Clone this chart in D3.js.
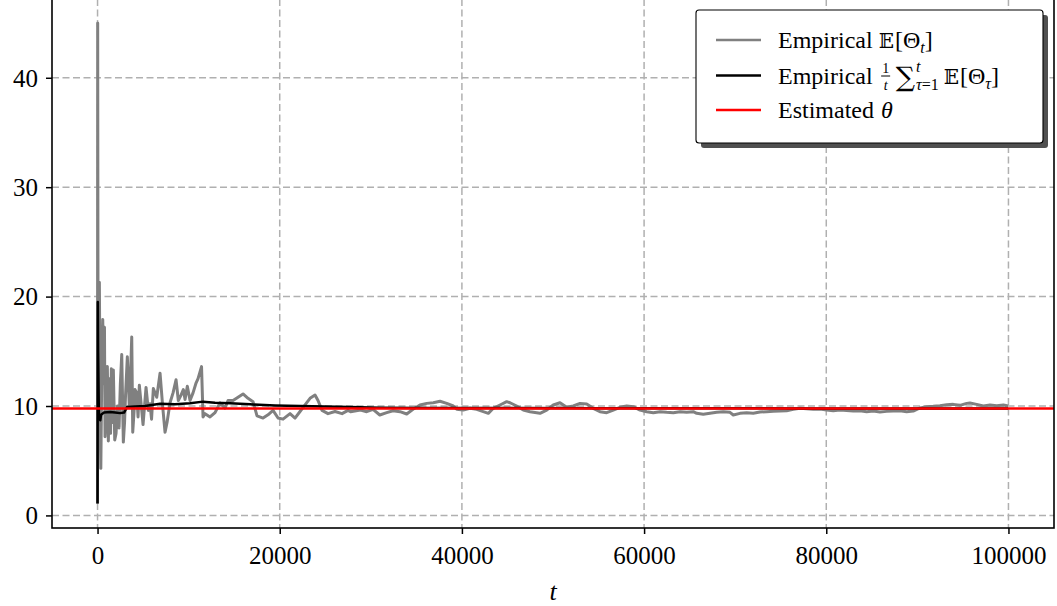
<!DOCTYPE html>
<html><head><meta charset="utf-8">
<script src="https://cdn.jsdelivr.net/npm/d3@7"></script>
<style>
body{margin:0;background:#fff;}
svg{display:block;}
</style></head>
<body><svg id="c" width="1057" height="606"></svg>
<script>
// ---------------- data ----------------
const xTicks = [0, 20000, 40000, 60000, 80000, 100000];
const yTicks = [0, 10, 20, 30, 40];
const thetaEst = 9.78;

const grayT = [0,15,60,200,300,360,450,571,680,760,823,933,1076,1185,1317,1427,1515,1614,1734,1888,2031,2195,2360,2503,2656,2832,2964,3074,3271,3491,3590,3754,3864,4007,4116,4303,4446,4588,4852,4995,5324,5576,5763,5928,6125,6498,6861,7157,7410,7629,7958,8288,8617,8869,9166,9418,9605,9857,10153,10483,10812,11032,11416,11581,11800,12349,12898,13447,13996,14325,14874,15423,15972,16520,17069,17508,18167,18716,19265,19814,20363,21131,21680,22229,22777,23326,23875,24204,24644,25302,26071,26839,27498,27772,28870,29550,30241,30986,31746,32437,33206,33941,34632,35400,36136,36860,37596,38331,39056,39429,40154,40889,41625,42349,42898,43447,44182,44918,45281,46015,46740,47475,48210,48573,49308,50032,50768,51503,52228,52963,53698,54423,55158,55894,56618,57354,58089,58814,59549,60284,61009,61744,62480,63204,63940,64675,65400,65772,66497,67232,67968,68692,69428,69790,70526,71261,71986,72721,73457,74181,74917,75652,76377,77112,77847,78572,79307,80043,80767,81503,82238,82963,83698,84434,85158,85894,86629,87354,88089,88825,89549,90285,91020,91745,92480,93216,93940,94676,95411,95773,96509,97244,97980,98715,99450,99966];
const grayV = [1.1,45.0,11.0,21.3,8.0,4.3,12.0,17.9,12.0,17.2,7.2,9.0,13.6,6.8,12.5,7.5,13.4,8.5,13.3,6.9,7.5,10.0,8.0,12.0,14.7,6.7,8.5,11.0,14.5,9.9,12.0,16.3,7.6,9.5,11.5,11.2,9.0,11.9,9.6,8.3,11.7,9.6,10.2,8.8,11.6,10.8,13.0,9.9,7.6,8.5,10.3,11.2,12.4,10.5,11.0,11.5,10.6,11.8,10.5,11.2,12.1,12.5,13.6,9.0,9.3,9.0,9.4,10.3,9.8,10.5,10.5,10.8,11.1,10.7,10.4,9.1,8.9,9.2,9.6,8.9,8.8,9.3,8.9,9.5,10.1,10.7,11.0,10.5,9.6,9.3,9.5,9.3,9.6,9.48,9.63,9.48,9.70,9.18,9.39,9.57,9.48,9.27,9.70,10.09,10.24,10.30,10.43,10.24,10.0,9.70,9.63,9.79,9.70,9.48,9.33,9.79,10.09,10.40,10.30,10.0,9.63,9.48,9.39,9.33,9.63,10.09,10.30,9.88,10.0,10.24,10.18,9.79,9.48,9.39,9.63,9.88,10.0,9.94,9.63,9.48,9.39,9.48,9.42,9.39,9.48,9.42,9.48,9.33,9.24,9.33,9.42,9.48,9.42,9.18,9.33,9.39,9.33,9.45,9.48,9.51,9.54,9.57,9.70,9.79,9.76,9.70,9.73,9.63,9.57,9.63,9.60,9.54,9.57,9.48,9.54,9.45,9.51,9.54,9.57,9.48,9.54,9.82,9.94,9.97,10.03,10.12,10.15,10.06,10.24,10.27,10.15,10.0,10.09,10.03,10.09,10.0];

const blackT = [0,30,60,150,300,384,714,1372,1921,2470,2909,3238,4116,5214,6861,8507,10153,11581,12898,14545,16740,19485,22229,24973,27717,31010,35400,44182,55158,77112,99966];
const blackV = [1.1,19.5,15.0,9.0,8.7,9.2,9.4,9.45,9.4,9.35,9.4,9.9,9.95,10.0,10.2,10.15,10.25,10.4,10.3,10.25,10.15,10.05,10.0,9.95,9.9,9.85,9.82,9.82,9.8,9.78,9.78];

// ---------------- layout ----------------
const L = 52, R = 1054, T = -1, B = 528;
const svg = d3.select("#c");
const x = d3.scaleLinear().domain([-5000, 105000]).range([L, R]);
const y = d3.scaleLinear().domain([-1.15, 47.2]).range([B, T]);
const serif = "'Liberation Serif', 'Times New Roman', serif";

svg.append("defs").append("clipPath").attr("id","clip")
  .append("rect").attr("x",L).attr("y",T).attr("width",R-L).attr("height",B-T);

// grid
const grid = svg.append("g").attr("stroke","#b0b0b0").attr("stroke-width",1.5).attr("stroke-dasharray","7,3.5");
grid.selectAll("line.gx").data(xTicks).join("line").attr("class","gx")
  .attr("x1",d=>x(d)).attr("x2",d=>x(d)).attr("y1",T).attr("y2",B);
grid.selectAll("line.gy").data(yTicks).join("line").attr("class","gy")
  .attr("x1",L).attr("x2",R).attr("y1",d=>y(d)).attr("y2",d=>y(d));

// lines
const plot = svg.append("g").attr("clip-path","url(#clip)");
const grayData = grayT.map((t,i)=>[t,grayV[i]]);
const blackData = blackT.map((t,i)=>[t,blackV[i]]);
const line = d3.line().x(d=>x(d[0])).y(d=>y(d[1]));
plot.append("path").datum(grayData).attr("d",line).attr("fill","none")
  .attr("stroke","#808080").attr("stroke-width",3).attr("stroke-linejoin","round");
plot.append("path").datum(blackData).attr("d",line).attr("fill","none")
  .attr("stroke","#000").attr("stroke-width",2.5).attr("stroke-linejoin","round");
plot.append("line").attr("x1",L).attr("x2",R).attr("y1",y(thetaEst)).attr("y2",y(thetaEst))
  .attr("stroke","#ff0000").attr("stroke-width",2.5);

// axes
const xAxis = d3.axisBottom(x).tickValues(xTicks).tickSize(6).tickSizeOuter(0).tickPadding(12).tickFormat(d3.format("d"));
const yAxis = d3.axisLeft(y).tickValues(yTicks).tickSize(6).tickSizeOuter(0).tickPadding(8).tickFormat(d3.format("d"));
const gx = svg.append("g").attr("transform",`translate(0,${B})`).call(xAxis);
const gy = svg.append("g").attr("transform",`translate(${L},0)`).call(yAxis);
[gx,gy].forEach(g=>{
  g.select(".domain").remove();
  g.selectAll(".tick line").attr("stroke","#000").attr("stroke-width",1.5);
  g.selectAll(".tick text").attr("font-family",serif).attr("font-size",25).attr("fill","#000");
});
gy.selectAll(".tick text").attr("dy","0.33em");

// spines
svg.append("rect").attr("x",L).attr("y",T).attr("width",R-L).attr("height",B-T)
  .attr("fill","none").attr("stroke","#000").attr("stroke-width",1.6);

// x label
svg.append("text").attr("x",(L+R)/2).attr("y",600).attr("text-anchor","middle")
  .attr("font-family",serif).attr("font-style","italic").attr("font-size",26).text("t");

// ---------------- legend ----------------
const lg = svg.append("g");
lg.append("rect").attr("x",701).attr("y",15).attr("width",347).attr("height",133).attr("rx",3)
  .attr("fill","#505050");
lg.append("rect").attr("x",696).attr("y",10).attr("width",347).attr("height",133).attr("rx",3)
  .attr("fill","#fff").attr("stroke","#000").attr("stroke-width",1.1);

const legendColors = ["#808080","#000","#ff0000"];
const rowY = [40, 75.5, 110];
rowY.forEach((ry,i)=>{
  lg.append("line").attr("x1",716).attr("x2",761).attr("y1",ry).attr("y2",ry)
    .attr("stroke",legendColors[i]).attr("stroke-width",2.6);
});

const bb = "'DejaVu Serif','DejaVu Sans','Noto Sans',serif";
function piece(px, by, str, size, opts={}){
  const t = lg.append("text").attr("x",px).attr("y",by).attr("font-size",size)
    .attr("font-family",opts.font||serif).attr("fill","#000").text(str);
  if(opts.italic) t.attr("font-style","italic");
  if(opts.anchor) t.attr("text-anchor",opts.anchor);
  return t.node().getComputedTextLength();
}
// row 1
let cx = 778, by = 48;
cx += piece(cx,by,"Empirical",24) + 6;
cx += piece(cx,by,"\u{1D53C}",20,{font:bb}) + 1;
cx += piece(cx,by,"[\u0398",24);
cx += piece(cx,by+5,"t",16,{italic:true});
piece(cx,by,"]",24);
// row 2
cx = 778; by = 83.5;
cx += piece(cx,by,"Empirical",24) + 9;
{
  const fx = cx + 4;
  piece(fx,by-11,"1",14,{anchor:"middle"});
  piece(fx,by+6,"t",14,{italic:true,anchor:"middle"});
  lg.append("line").attr("x1",fx-4.5).attr("x2",fx+4.5).attr("y1",by-7.5).attr("y2",by-7.5)
    .attr("stroke","#000").attr("stroke-width",1);
  cx = fx + 10;
}
cx += piece(cx,by+2,"\u2211",27,{font:bb}) + 1;
{
  const w1 = piece(cx,by-12,"t",16,{italic:true});
  let sx = cx;
  sx += piece(sx,by+6,"\u03C4",16,{italic:true});
  sx += piece(sx,by+6,"=1",16);
  cx = Math.max(cx+w1, sx) + 5;
}
cx += piece(cx,by,"\u{1D53C}",20,{font:bb}) + 1;
cx += piece(cx,by,"[\u0398",24);
cx += piece(cx,by+5,"\u03C4",16,{italic:true});
piece(cx,by,"]",24);
// row 3
cx = 778; by = 118;
cx += piece(cx,by,"Estimated",24) + 7;
piece(cx,by,"\u03B8",24,{italic:true});
</script>
</body></html>
